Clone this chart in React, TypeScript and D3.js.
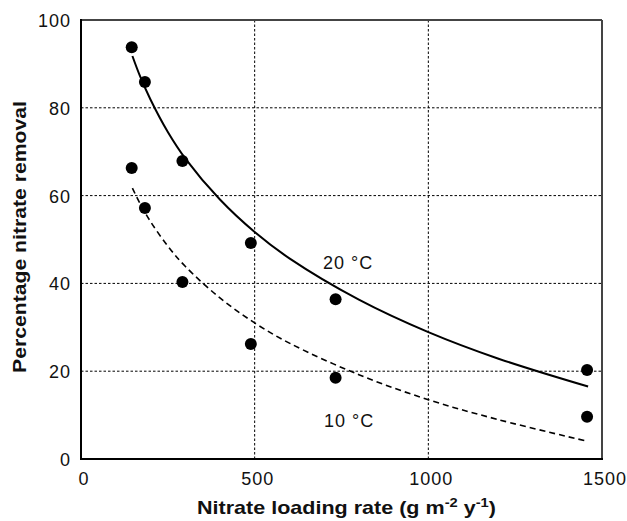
import React from "react";
import * as d3 from "d3";

const loadX = [146, 184, 292, 489, 733, 1457];
const removal20 = [93.8, 85.9, 67.9, 49.2, 36.4, 20.3];
const removal10 = [66.3, 57.2, 40.3, 26.2, 18.5, 9.6];

const fitX = [148, 170, 200, 250, 300, 400, 500, 600, 800, 1000, 1200, 1460];
const fit20 = [91.8, 87.2, 81.9, 74.5, 68.5, 59.1, 51.7, 45.7, 36.3, 28.9, 22.9, 16.5];
const fit10 = [61.7, 58.2, 54.1, 48.5, 43.9, 36.7, 31.0, 26.4, 19.2, 13.5, 9.0, 4.0];

const xTicks = [0, 500, 1000, 1500];
const yTicks = [0, 20, 40, 60, 80, 100];
const xGrid = [500, 1000];
const yGrid = [20, 40, 60, 80];

export default function App() {
  const W = 627, H = 521;
  const L = 81, R = 602, T = 20, B = 459;
  const x = d3.scaleLinear().domain([0, 1500]).range([L, R]);
  const y = d3.scaleLinear().domain([0, 100]).range([B, T]);
  const line = d3
    .line<number>()
    .x((_, i) => x(fitX[i]))
    .y((d) => y(d))
    .curve(d3.curveCatmullRom);
  const font = "Arial, 'Liberation Sans', sans-serif";
  return (
    <svg width={W} height={H} style={{ position: "absolute", left: 0, top: 0 }} fontFamily={font}>
      <rect width={W} height={H} fill="#fff" />
      {yGrid.map((v) => (
        <line key={"gy" + v} x1={L} x2={R} y1={y(v)} y2={y(v)} stroke="#000" strokeWidth={1} strokeDasharray="2.5,2" />
      ))}
      {xGrid.map((v) => (
        <line key={"gx" + v} x1={x(v)} x2={x(v)} y1={T} y2={B} stroke="#000" strokeWidth={1} strokeDasharray="2.5,2" />
      ))}
      <path d={line(fit20) || ""} fill="none" stroke="#000" strokeWidth={2} />
      <path d={line(fit10) || ""} fill="none" stroke="#000" strokeWidth={1.6} strokeDasharray="6,4" />
      {loadX.map((v, i) => (
        <circle key={"a" + i} cx={x(v)} cy={y(removal20[i])} r={6} fill="#000" />
      ))}
      {loadX.map((v, i) => (
        <circle key={"b" + i} cx={x(v)} cy={y(removal10[i])} r={6} fill="#000" />
      ))}
      <line x1={L} x2={R} y1={T} y2={T} stroke="#444" strokeWidth={2} />
      <line x1={R} x2={R} y1={T} y2={B} stroke="#444" strokeWidth={2} />
      <line x1={L} x2={L} y1={T - 1} y2={B + 1} stroke="#000" strokeWidth={2} />
      <line x1={L - 1} x2={R + 1} y1={B} y2={B} stroke="#000" strokeWidth={2} />
      {xTicks.map((v) => (
        <text key={"xt" + v} x={x(v) + 3} y={B + 26} textAnchor="middle" fontSize={18} letterSpacing={1} fill="#111">
          {v}
        </text>
      ))}
      {yTicks.map((v) => (
        <text key={"yt" + v} x={L - 10} y={y(v) + 7} textAnchor="end" fontSize={18} letterSpacing={1} fill="#111">
          {v}
        </text>
      ))}
      <text x={323} y={269} fontSize={18} letterSpacing={1} fill="#111">20 °C</text>
      <text x={324} y={427} fontSize={18} letterSpacing={1} fill="#111">10 °C</text>
      <text x={197} y={514} fontSize={19} fontWeight="bold" fill="#111" textLength={299} lengthAdjust="spacingAndGlyphs">
        Nitrate loading rate (g m
        <tspan dy={-7} fontSize={13}>-2</tspan>
        <tspan dy={7}> y</tspan>
        <tspan dy={-7} fontSize={13}>-1</tspan>
        <tspan dy={7}>)</tspan>
      </text>
      <text
        transform={`translate(25.5, 373) rotate(-90)`}
        fontSize={19}
        fontWeight="bold"
        fill="#111"
        textLength={272}
        lengthAdjust="spacingAndGlyphs"
      >
        Percentage nitrate removal
      </text>
    </svg>
  );
}
